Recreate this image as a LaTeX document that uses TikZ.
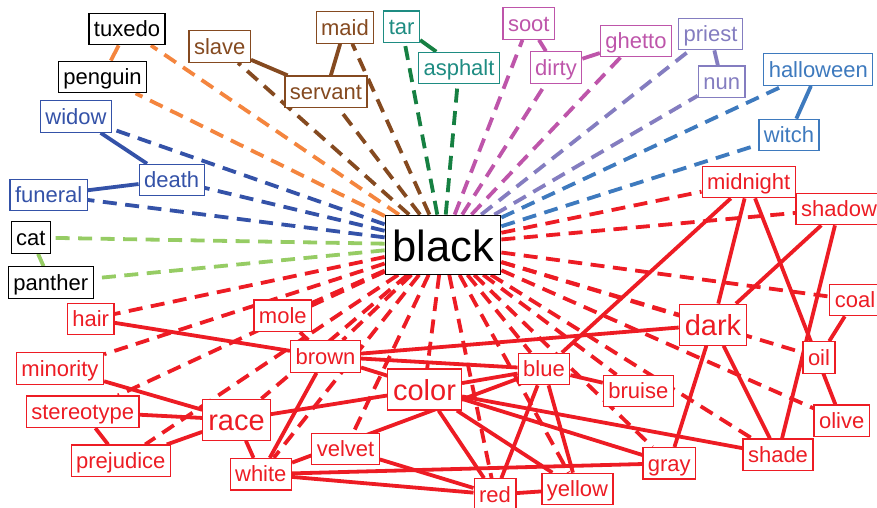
\documentclass[tikz,border=0pt]{standalone}
\usepackage{fontspec}
\setmainfont{Liberation Sans}
\definecolor{redc}{RGB}{237,28,36}
\definecolor{orangec}{RGB}{244,133,62}
\definecolor{brownc}{RGB}{133,74,32}
\definecolor{greenc}{RGB}{22,128,66}
\definecolor{tealc}{RGB}{30,140,130}
\definecolor{magentac}{RGB}{190,85,170}
\definecolor{purplec}{RGB}{132,125,192}
\definecolor{steelc}{RGB}{62,122,190}
\definecolor{navyc}{RGB}{52,82,168}
\definecolor{lgreenc}{RGB}{150,204,100}
\pgfdeclarelayer{edges}
\pgfsetlayers{edges,main}
\tikzset{
  word/.style={draw=#1, text=#1, fill=white, line width=1.2pt,
    font=\fontsize{22}{26}\selectfont, inner xsep=5pt, inner ysep=5pt,
    text height=18.5pt, text depth=3pt},
  bigword/.style={word=#1, font=\fontsize{29}{34}\selectfont,
    inner xsep=5.5pt, inner ysep=6pt, text height=25pt, text depth=4pt},
  hubword/.style={word=#1, font=\fontsize{43.5}{50}\selectfont,
    inner xsep=7pt, inner ysep=10pt, text height=36pt, text depth=3pt},
  spoke/.style={draw=#1, line width=3.8pt, dash pattern=on 14pt off 8.5pt},
  bond/.style={draw=#1, line width=3.8pt},
}
\begin{document}
\begin{tikzpicture}[x=1pt,y=-1pt]
\useasboundingbox (0,0) rectangle (877,507);
\clip (0,0) rectangle (877,507);

% hub
\node[hubword=black] (nblack) at (443,244.7) {black};

% small clusters around the top and left
\node[word=black] (ntuxedo) at (127,29) {tuxedo};
\node[word=black] (npenguin) at (102.5,77) {penguin};
\node[word=navyc] (nwidow) at (76,116.5) {widow};
\node[word=navyc] (ndeath) at (171.7,180) {death};
\node[word=navyc] (nfuneral) at (48.7,195) {funeral};
\node[word=black] (ncat) at (30.8,237.5) {cat};
\node[word=black] (npanther) at (50.8,282.5) {panther};
\node[word=brownc] (nslave) at (219.7,46.5) {slave};
\node[word=brownc] (nservant) at (326,91.7) {servant};
\node[word=brownc] (nmaid) at (345,27.5) {maid};
\node[word=tealc] (ntar) at (401.7,26.8) {tar};
\node[word=tealc] (nasphalt) at (459,68) {asphalt};
\node[word=magentac] (nsoot) at (528.8,23.5) {soot};
\node[word=magentac] (ndirty) at (556,67.5) {dirty};
\node[word=magentac] (nghetto) at (636,41) {ghetto};
\node[word=purplec] (npriest) at (710.5,34) {priest};
\node[word=purplec] (nnun) at (721.7,81.7) {nun};
\node[word=steelc] (nhalloween) at (818.3,69.5) {halloween};
\node[word=steelc] (nwitch) at (789,135) {witch};

% red cluster
\node[word=redc] (nmidnight) at (748.7,182) {midnight};
\node[word=redc] (nshadow) at (839,209) {shadow};
\node[word=redc] (ncoal) at (855,300) {coal};
\node[bigword=redc] (ndark) at (713,324.7) {dark};
\node[word=redc] (noil) at (819,357.5) {oil};
\node[word=redc] (nolive) at (841.7,420.7) {olive};
\node[word=redc] (nbruise) at (638.3,391) {bruise};
\node[word=redc] (nshade) at (778,454.7) {shade};
\node[word=redc] (ngray) at (669.3,463.3) {gray};
\node[word=redc] (nyellow) at (577.5,489) {yellow};
\node[word=redc] (nred) at (495,494.5) {red};
\node[word=redc] (nblue) at (544,369) {blue};
\node[bigword=redc] (ncolor) at (424.5,389.5) {color};
\node[word=redc] (nbrown) at (325.5,356.5) {brown};
\node[word=redc] (nmole) at (282.8,315.8) {mole};
\node[word=redc] (nvelvet) at (345.5,449) {velvet};
\node[word=redc] (nwhite) at (260.8,474.2) {white};
\node[bigword=redc] (nrace) at (236.5,419.7) {race};
\node[word=redc] (nhair) at (90.7,319) {hair};
\node[word=redc] (nminority) at (60,368.5) {minority};
\node[word=redc] (nstereotype) at (82.7,411.8) {stereotype};
\node[word=redc] (nprejudice) at (120.8,460.8) {prejudice};

\begin{pgfonlayer}{edges}
  % dashed spokes from the hub
  \foreach \n in {tuxedo,penguin} \draw[spoke=orangec] (nblack) -- (n\n);
  \foreach \n in {cat,panther} \draw[spoke=lgreenc] (nblack) -- (n\n);
  \foreach \n in {widow,death,funeral} \draw[spoke=navyc] (nblack) -- (n\n);
  \foreach \n in {slave,servant,maid} \draw[spoke=brownc] (nblack) -- (n\n);
  \foreach \n in {tar,asphalt} \draw[spoke=greenc] (nblack) -- (n\n);
  \foreach \n in {soot,dirty,ghetto} \draw[spoke=magentac] (nblack) -- (n\n);
  \foreach \n in {priest,nun} \draw[spoke=purplec] (nblack) -- (n\n);
  \foreach \n in {halloween,witch} \draw[spoke=steelc] (nblack) -- (n\n);
  \foreach \n in {midnight,shadow,coal,dark,oil,olive,bruise,shade,gray,
                  yellow,red,blue,color,brown,mole,velvet,white,race,
                  hair,minority,stereotype,prejudice}
    \draw[spoke=redc] (nblack) -- (n\n);

  % solid links inside the clusters
  \draw[bond=orangec] (ntuxedo) -- (npenguin);
  \draw[bond=brownc] (nslave) -- (nservant);
  \draw[bond=brownc] (nmaid) -- (nservant);
  \draw[bond=greenc] (ntar) -- (nasphalt);
  \draw[bond=magentac] (nsoot) -- (ndirty);
  \draw[bond=magentac] (ndirty) -- (nghetto);
  \draw[bond=purplec] (npriest) -- (nnun);
  \draw[bond=steelc] (nhalloween) -- (nwitch);
  \draw[bond=navyc] (nwidow) -- (ndeath);
  \draw[bond=navyc] (ndeath) -- (nfuneral);
  \draw[bond=lgreenc] (ncat) -- (npanther);

  \foreach \a/\b in {hair/brown, minority/race, stereotype/race,
      stereotype/prejudice, prejudice/race, race/white, race/color,
      color/blue, mole/brown, brown/white, brown/dark, brown/blue,
      brown/gray, white/blue, white/gray, white/red, velvet/red,
      color/red, color/yellow, color/shade, blue/bruise, blue/red,
      blue/yellow, red/yellow, midnight/blue, midnight/dark,
      midnight/olive, shadow/dark, shadow/shade, coal/oil,
      dark/gray, dark/shade}
    \draw[bond=redc] (n\a) -- (n\b);
\end{pgfonlayer}
\end{tikzpicture}
\end{document}
